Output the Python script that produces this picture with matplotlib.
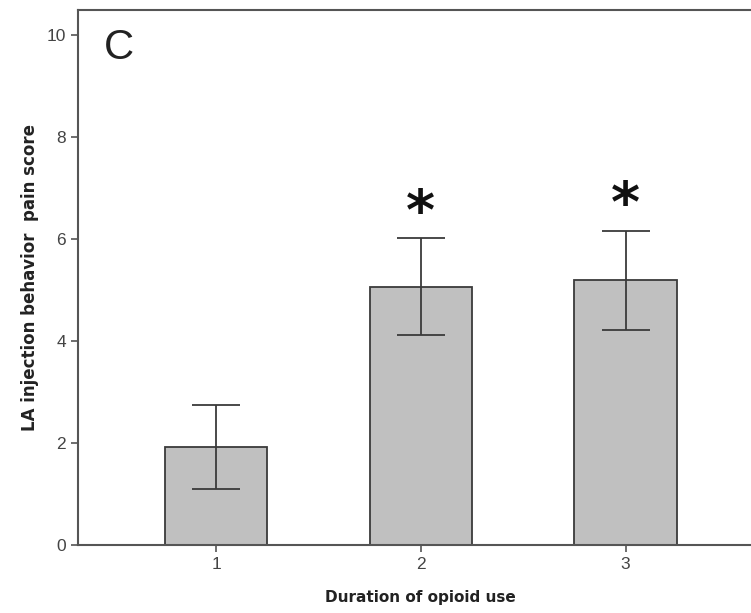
import matplotlib
matplotlib.use("Agg")
import matplotlib.pyplot as plt

groups = [1, 2, 3]
means = [1.92, 5.06, 5.2]
err_low = [1.10, 4.12, 4.21]
err_high = [2.75, 6.01, 6.16]
stars = ["", "*", "*"]

narrow = ['Liberation Sans Narrow', 'Liberation Sans', 'DejaVu Sans']
plt.rcParams['font.family'] = ['DejaVu Sans']

fig = plt.figure(figsize=(7.51, 6.13), dpi=100)
ax = fig.add_axes([0.1039, 0.111, 0.913, 0.8727])

yerr = [[m - lo for m, lo in zip(means, err_low)],
        [hi - m for m, hi in zip(means, err_high)]]
ax.bar(groups, means, width=0.5, color="#c0c0c0", edgecolor="#3a3a3a", linewidth=1.3, zorder=2)
ax.errorbar(groups, means, yerr=yerr, fmt="none", ecolor="#3a3a3a", elinewidth=1.3,
            capsize=17, capthick=1.3, zorder=3)

# significance marks
for g, hi, s in zip(groups, err_high, stars):
    if s:
        ax.text(g, hi - 0.05, s, ha="center", va="bottom", fontsize=40, fontweight="bold",
                family="DejaVu Sans", color="#111111")

ax.text(0.45, 9.75, "C", fontsize=30, va="center", ha="left", color="#222222",
        family=narrow)

ax.set_xlim(0.325, 3.675)
ax.set_ylim(0, 10.49)
ax.set_xticks(groups)
ax.set_yticks([0, 2, 4, 6, 8, 10])
ax.tick_params(direction="out", length=5, width=1.2, colors="#555555", labelsize=12.5,
               labelcolor="#444444")
for lab in ax.get_xticklabels() + ax.get_yticklabels():
    lab.set_family(narrow)
for side in ["left", "bottom", "top"]:
    ax.spines[side].set_color("#555555")
    ax.spines[side].set_linewidth(1.5)
ax.spines["right"].set_visible(False)

ax.set_xlabel("Duration of opioid use", fontsize=11, fontweight="bold", labelpad=13,
              color="#222222")
ax.set_ylabel("LA injection behavior  pain score", fontsize=12, fontweight="bold",
              labelpad=6, color="#222222")

fig.savefig("out.png", dpi=100)
